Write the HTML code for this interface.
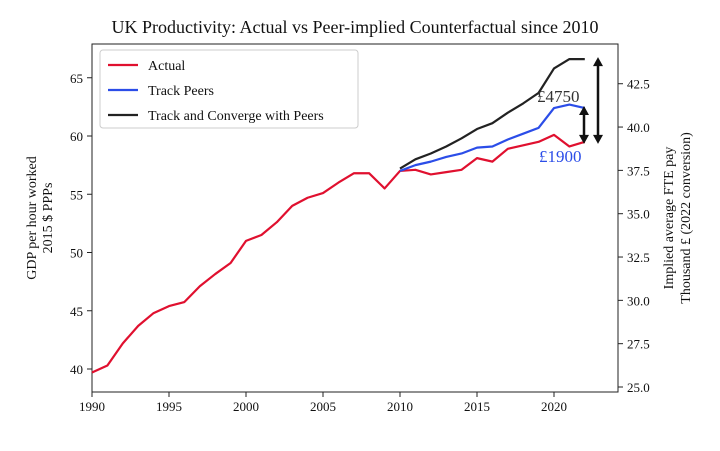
<!DOCTYPE html>
<html><head><meta charset="utf-8"><style>
body{margin:0;background:#fff;}
svg text{font-family:"Liberation Serif",serif;}
</style></head><body>
<svg id="chart" width="720" height="446" xmlns="http://www.w3.org/2000/svg">
<text x="355" y="33" text-anchor="middle" font-size="18" fill="#111">UK Productivity: Actual vs Peer-implied Counterfactual since 2010</text>
<g id="axes"></g>
<g id="series"></g>
<text x="537" y="102" font-size="17" fill="#333">£4750</text>
<text x="539" y="162" font-size="17" fill="#2b4de8">£1900</text>
<g>
<rect x="100" y="50" width="258" height="78" fill="#fff" stroke="#ccc" rx="3"/>
<line x1="108" y1="65" x2="138" y2="65" stroke="#e0102f" stroke-width="2.2"/>
<text x="148" y="70" font-size="14" fill="#111">Actual</text>
<line x1="108" y1="90" x2="138" y2="90" stroke="#2b4de8" stroke-width="2.2"/>
<text x="148" y="95" font-size="14" fill="#111">Track Peers</text>
<line x1="108" y1="115" x2="138" y2="115" stroke="#222" stroke-width="2.2"/>
<text x="148" y="120" font-size="14" fill="#111">Track and Converge with Peers</text>
</g>
<text transform="translate(36,218) rotate(-90)" text-anchor="middle" font-size="14" fill="#111">GDP per hour worked</text>
<text transform="translate(52,218) rotate(-90)" text-anchor="middle" font-size="14" fill="#111">2015 $ PPPs</text>
<text transform="translate(673,218) rotate(-90)" text-anchor="middle" font-size="14" fill="#111">Implied average FTE pay</text>
<text transform="translate(690,218) rotate(-90)" text-anchor="middle" font-size="14" fill="#111">Thousand £ (2022 conversion)</text>
</svg>
<script>
const years=[1990,1991,1992,1993,1994,1995,1996,1997,1998,1999,2000,2001,2002,2003,2004,2005,2006,2007,2008,2009,2010,2011,2012,2013,2014,2015,2016,2017,2018,2019,2020,2021,2022];
const actual=[39.7,40.3,42.2,43.7,44.8,45.4,45.75,47.1,48.15,49.1,51.0,51.5,52.6,54.0,54.7,55.1,56.0,56.8,56.8,55.5,57.0,57.1,56.7,56.9,57.1,58.1,57.8,58.9,59.2,59.5,60.1,59.1,59.5];
const peerYears=[2010,2011,2012,2013,2014,2015,2016,2017,2018,2019,2020,2021,2022];
const trackPeers=[57.0,57.5,57.8,58.2,58.5,59.0,59.1,59.7,60.2,60.7,62.4,62.7,62.4];
const converge=[57.2,58.0,58.5,59.1,59.8,60.6,61.1,62.0,62.8,63.7,65.8,66.6,66.6];
const xTicks=[1990,1995,2000,2005,2010,2015,2020];
const yTicks=[40,45,50,55,60,65];
const y2Ticks=["25.0","27.5","30.0","32.5","35.0","37.5","40.0","42.5"];
const NS="http://www.w3.org/2000/svg";
const L=92,R=618,T=44,B=392;
const x=v=>92+(v-1990)*15.4;
const y=v=>369-(v-40)*11.65;
const y2=v=>387-(v-25)*17.33;
function mk(tag,attrs,parent){const e=document.createElementNS(NS,tag);for(const k in attrs)e.setAttribute(k,attrs[k]);parent.appendChild(e);return e;}
const ax=document.getElementById('axes');
const frame=mk('rect',{x:L,y:T,width:R-L,height:B-T,fill:'none',stroke:'#222','stroke-width':1},ax);


xTicks.forEach(t=>{
 mk('line',{x1:x(t),x2:x(t),y1:B,y2:B+5,stroke:'#222'},ax);
 const tx=mk('text',{x:x(t),y:B+19,'text-anchor':'middle','font-size':13,fill:'#111'},ax);
 tx.textContent=t;
 
 
});
yTicks.forEach(t=>{
 mk('line',{x1:L-5,x2:L,y1:y(t),y2:y(t),stroke:'#222'},ax);
 const tx=mk('text',{x:L-9,y:y(t)+5,'text-anchor':'end','font-size':13,fill:'#111'},ax);
 tx.textContent=t;
 
 
});
y2Ticks.forEach(t=>{
 const v=parseFloat(t);
 mk('line',{x1:R,x2:R+5,y1:y2(v),y2:y2(v),stroke:'#222'},ax);
 const tx=mk('text',{x:R+9,y:y2(v)+5,'font-size':13,fill:'#111'},ax);
 tx.textContent=t;
 
 
});
const sg=document.getElementById('series');
function line(xs,vs,color,name){
 const p=mk('polyline',{points:xs.map((yr,i)=>x(yr)+','+y(vs[i])).join(' '),fill:'none',stroke:color,'stroke-width':2.2,'stroke-linejoin':'round'},sg);
 
 
}
line(years,actual,'#e0102f','actual-line');
line(peerYears,converge,'#222','converge-line');
line(peerYears,trackPeers,'#2b4de8','track-peers-line');
function arrow(xp,a,b,name){
 const g=mk('g',{},sg);
 
 
 const ya=y(a)-2,yb=y(b)+2;
 mk('line',{x1:xp,x2:xp,y1:ya+6,y2:yb-6,stroke:'#111','stroke-width':2.5},g);
 mk('polygon',{points:`${xp-5},${ya+9} ${xp+5},${ya+9} ${xp},${ya}`,fill:'#111'},g);
 mk('polygon',{points:`${xp-5},${yb-9} ${xp+5},${yb-9} ${xp},${yb}`,fill:'#111'},g);
}
const last=actual.length-1,pl=peerYears.length-1;
arrow(598,converge[pl],actual[last],'arrow-4750');
arrow(584,trackPeers[pl],actual[last],'arrow-1900');
</script>
</body></html>
